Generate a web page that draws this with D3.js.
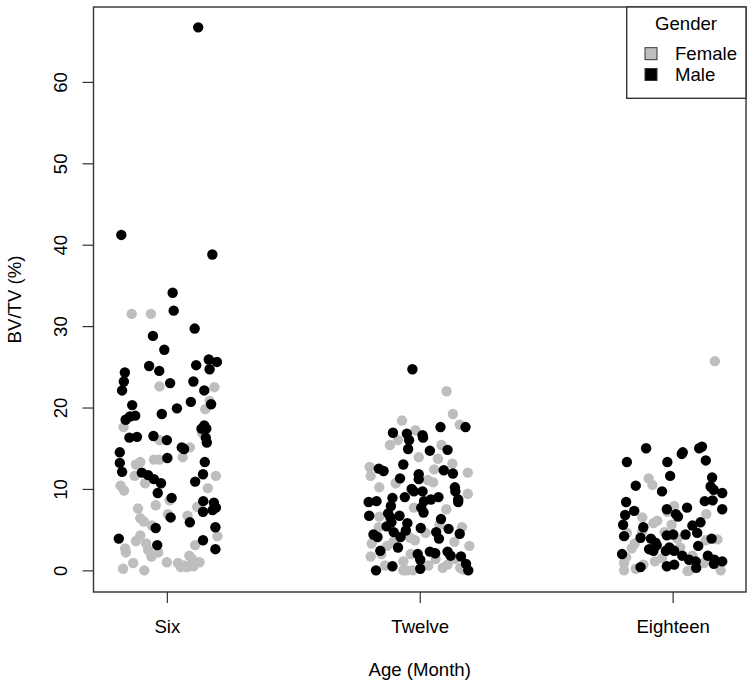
<!DOCTYPE html>
<html>
<head>
<meta charset="utf-8">
<style>
  body { margin: 0; background: #fff; }
  text { font-family: "Liberation Sans", Arial, Helvetica, sans-serif; fill: #000; }
</style>
</head>
<body>
<svg width="754" height="690"></svg>
<script src="https://d3js.org/d3.v7.min.js"></script>
<script>
// BV/TV (%) by age group, split by gender.
// each point is [jitter (in category units), value]
var ages = ["Six", "Twelve", "Eighteen"]
var genders = ["Female", "Male"]
var yTicks = [0, 10, 20, 30, 40, 50, 60]

var sixFemale = [
  [-0.139, 31.5], [-0.063, 31.5], [-0.029, 22.6], [0.188, 22.5], [0.152, 19.8], [0.169, 20.8],
  [-0.171, 17.6], [0.139, 16.9], [-0.029, 16.0], [0.091, 15.1], [0.063, 13.9], [-0.051, 13.6],
  [-0.030, 13.6], [-0.105, 13.3], [-0.122, 13.0], [-0.183, 10.4], [-0.169, 9.8], [-0.127, 11.6],
  [-0.086, 10.7], [0.162, 10.1], [0.194, 11.6], [0.011, 8.6], [-0.044, 8.0], [-0.114, 7.6],
  [0.120, 7.8], [0.082, 6.7], [-0.105, 6.4], [-0.091, 6.0], [0.004, 6.9], [-0.059, 5.5],
  [0.200, 4.2], [-0.105, 4.3], [-0.122, 3.6], [-0.082, 3.3], [-0.165, 2.7], [-0.162, 2.2],
  [-0.074, 2.5], [-0.061, 1.7], [-0.034, 2.2], [0.000, 1.0], [-0.133, 0.9], [-0.173, 0.2],
  [-0.089, 0.0], [0.044, 0.9], [0.055, 0.4], [0.080, 0.4], [0.105, 0.5], [0.089, 1.8],
  [0.129, 1.0], [0.112, 3.1], [0.100, 1.4], [0.068, 0.6], [0.063, 15.0]
]
var sixMale = [
  [0.124, 66.7], [-0.180, 41.2], [0.180, 38.8], [0.023, 34.1], [0.027, 31.9], [0.110, 29.7],
  [-0.055, 28.8], [-0.010, 27.1], [-0.166, 24.3], [-0.070, 25.1], [-0.030, 24.5], [0.116, 25.2],
  [0.166, 25.9], [0.198, 25.6], [0.169, 24.7], [-0.170, 23.2], [0.013, 23.0], [0.105, 23.2],
  [-0.177, 22.1], [0.148, 22.1], [-0.137, 20.3], [0.040, 19.9], [0.095, 20.7], [0.175, 20.4],
  [-0.125, 19.0], [-0.020, 19.2], [-0.163, 18.5], [-0.146, 18.9], [-0.148, 16.3], [-0.118, 16.4],
  [-0.053, 16.5], [0.000, 16.0], [0.059, 15.1], [0.068, 14.9], [0.148, 17.8], [0.156, 17.4],
  [0.137, 17.4], [0.158, 15.7], [0.154, 16.3], [-0.186, 14.5], [-0.186, 13.2], [0.002, 13.8],
  [-0.177, 12.1], [0.150, 13.3], [0.143, 11.8], [-0.099, 12.0], [-0.074, 11.7], [-0.051, 11.2],
  [-0.023, 10.7], [0.112, 10.9], [-0.036, 9.5], [0.019, 8.9], [0.144, 8.5], [0.186, 8.3],
  [0.194, 7.7], [0.181, 7.4], [0.143, 7.2], [0.015, 6.5], [-0.044, 5.2], [0.192, 5.3],
  [0.091, 5.9], [-0.190, 3.9], [0.143, 3.7], [-0.038, 3.1], [0.192, 2.6]
]
var twelveFemale = [
  [0.106, 22.0], [0.131, 19.2], [-0.070, 18.4], [0.158, 17.9], [-0.017, 17.2], [-0.086, 16.0],
  [-0.118, 15.4], [0.086, 15.4], [-0.004, 13.9], [0.072, 13.7], [-0.198, 12.7], [0.129, 13.1],
  [0.057, 12.4], [0.190, 12.0], [-0.194, 11.6], [0.032, 11.1], [-0.095, 10.7], [0.053, 10.8],
  [-0.160, 10.2], [0.190, 9.4], [-0.023, 7.7], [0.105, 7.5], [-0.160, 6.6], [0.167, 5.3],
  [-0.162, 5.3], [0.078, 5.6], [-0.038, 4.0], [-0.019, 3.7], [0.023, 4.6], [-0.190, 3.3],
  [-0.129, 3.0], [-0.105, 3.5], [0.137, 3.5], [0.196, 3.0], [-0.152, 2.0], [-0.194, 1.7],
  [-0.036, 2.0], [-0.065, 1.1], [0.063, 1.4], [0.139, 1.4], [-0.137, 0.6], [-0.065, 0.0],
  [-0.051, 0.0], [-0.027, 0.0], [0.034, 0.6], [0.091, 0.3], [0.160, 0.3], [0.173, 0.1],
  [0.110, 0.7]
]
var twelveMale = [
  [-0.029, 24.7], [0.082, 17.6], [0.181, 17.6], [-0.106, 16.9], [-0.051, 16.8], [0.011, 16.6],
  [-0.042, 16.0], [0.013, 16.3], [-0.046, 14.9], [0.040, 14.7], [0.110, 14.8], [-0.065, 13.0],
  [-0.162, 12.5], [-0.143, 12.2], [0.095, 12.3], [0.131, 11.9], [-0.078, 11.3], [-0.004, 11.8],
  [-0.004, 11.2], [0.139, 10.2], [0.141, 9.7], [-0.032, 10.0], [-0.023, 9.7], [0.011, 9.7],
  [-0.202, 8.4], [-0.171, 8.5], [-0.108, 8.9], [-0.059, 9.0], [0.017, 8.5], [0.044, 8.7],
  [0.074, 9.0], [0.152, 8.4], [0.152, 8.7], [-0.114, 7.9], [0.006, 7.7], [0.015, 7.1],
  [-0.200, 6.7], [-0.125, 7.0], [-0.116, 6.5], [-0.080, 6.7], [0.084, 6.3], [-0.112, 5.9],
  [-0.131, 5.4], [-0.103, 4.7], [-0.049, 5.8], [-0.055, 4.9], [-0.076, 4.1], [-0.183, 4.4],
  [-0.167, 4.1], [0.004, 5.2], [0.065, 4.7], [0.076, 3.9], [0.114, 5.1], [0.158, 4.5],
  [-0.086, 2.8], [-0.156, 2.4], [-0.008, 2.0], [0.002, 1.3], [0.040, 2.3], [0.110, 2.3],
  [0.122, 1.8], [0.163, 1.7], [0.183, 0.8], [0.192, 0.0], [-0.173, 0.0], [-0.108, 0.5],
  [0.002, 0.2], [0.061, 2.1]
]
var eighteenFemale = [
  [0.167, 25.7], [-0.095, 11.3], [-0.080, 10.5], [0.006, 7.9], [-0.021, 7.2], [0.133, 6.9],
  [-0.076, 5.8], [-0.061, 6.1], [-0.120, 6.5], [-0.120, 4.8], [-0.181, 4.6], [-0.004, 5.6],
  [-0.150, 3.3], [-0.162, 2.7], [0.177, 3.8], [-0.184, 1.6], [-0.192, 0.9], [-0.192, 0.0],
  [-0.146, 0.2], [-0.116, 0.7], [-0.070, 1.1], [-0.042, 1.5], [0.030, 2.8], [0.078, 1.8],
  [0.067, 0.0], [0.059, -0.1], [0.124, 0.9], [0.190, 0.0], [0.131, 3.7], [-0.032, 4.7],
  [0.019, 3.9]
]
var eighteenMale = [
  [-0.105, 15.0], [0.116, 15.2], [0.105, 15.0], [0.040, 14.5], [0.036, 14.3], [-0.181, 13.3],
  [-0.021, 13.3], [0.131, 13.5], [-0.010, 11.6], [0.156, 11.4], [-0.146, 10.4], [0.150, 10.3],
  [0.162, 9.9], [0.196, 9.5], [-0.042, 9.7], [-0.184, 8.4], [0.127, 8.5], [0.158, 8.6],
  [0.057, 7.7], [-0.023, 7.5], [0.196, 7.5], [-0.152, 7.3], [-0.188, 6.8], [0.013, 6.9],
  [0.021, 6.6], [-0.196, 5.6], [-0.116, 5.3], [0.110, 5.9], [0.078, 5.5], [0.097, 4.6],
  [0.051, 4.4], [-0.023, 4.3], [0.002, 4.4], [-0.192, 4.2], [-0.127, 4.0], [-0.086, 3.9],
  [0.154, 3.9], [-0.068, 3.4], [-0.063, 3.1], [0.101, 3.0], [-0.093, 2.6], [-0.013, 2.8],
  [-0.076, 2.4], [-0.027, 2.4], [0.006, 2.4], [-0.200, 2.0], [0.038, 1.8], [0.139, 1.8],
  [0.165, 1.3], [0.065, 1.3], [0.091, 1.1], [0.196, 1.1], [-0.127, 0.4], [-0.023, 0.5],
  [0.006, 0.7], [0.093, 0.3], [0.163, 0.8]
]

var female = [sixFemale, twelveFemale, eighteenFemale]
var male = [sixMale, twelveMale, eighteenMale]
var colors = { Female: "#bebebe", Male: "#000000" }
var fontSize = "18.6px"

var svg = d3.select("svg")
var box = { left: 93.5, right: 746, top: 7, bottom: 592 }

var x = d3.scaleLinear().domain([0.71, 3.29]).range([box.left, box.right])
var y = d3.scaleLinear().domain([-2.66, 69.2]).range([box.bottom, box.top])

// points: females first, then males on top
function flatten(groups, gender) {
  var out = []
  groups.forEach(function (g, i) {
    g.forEach(function (p) { out.push({ age: i + 1, jit: p[0], v: p[1], gender: gender }) })
  })
  return out
}
var points = flatten(female, "Female").concat(flatten(male, "Male"))

svg.append("g").selectAll("circle")
  .data(points)
  .enter().append("circle")
  .attr("cx", function (d) { return x(d.age + d.jit) })
  .attr("cy", function (d) { return y(d.v) })
  .attr("r", 5.2)
  .attr("fill", function (d) { return colors[d.gender] })

// box
svg.append("rect")
  .attr("x", box.left).attr("y", box.top)
  .attr("width", box.right - box.left).attr("height", box.bottom - box.top)
  .attr("fill", "none").attr("stroke", "#333").attr("stroke-width", 1.4)

// y axis
var yAxis = svg.append("g")
  .attr("transform", "translate(" + box.left + ",0)")
  .call(d3.axisLeft(y).tickValues(yTicks).tickSize(11).tickFormat(d3.format("d")))
yAxis.select(".domain").remove()
yAxis.selectAll(".tick line").attr("stroke", "#333").attr("stroke-width", 1.2)
yAxis.selectAll(".tick text")
  .attr("transform", "rotate(-90)")
  .attr("x", 0).attr("y", -26.5).attr("dy", 0)
  .attr("text-anchor", "middle")
  .style("font-size", fontSize)
  .style("font-family", "Liberation Sans, Arial, sans-serif")

// x axis
var xAxis = svg.append("g")
  .attr("transform", "translate(0," + box.bottom + ")")
  .call(d3.axisBottom(x).tickValues([1, 2, 3]).tickSize(11)
    .tickFormat(function (d) { return ages[d - 1] }))
xAxis.select(".domain").remove()
xAxis.selectAll(".tick line").attr("stroke", "#333").attr("stroke-width", 1.2)
xAxis.selectAll(".tick text")
  .attr("y", 41).attr("dy", 0)
  .style("font-size", fontSize)
  .style("font-family", "Liberation Sans, Arial, sans-serif")

// titles
svg.append("text")
  .attr("x", (box.left + box.right) / 2).attr("y", 676)
  .attr("text-anchor", "middle").style("font-size", fontSize)
  .text("Age (Month)")
svg.append("text")
  .attr("transform", "translate(21," + (box.top + box.bottom) / 2 + ") rotate(-90)")
  .attr("text-anchor", "middle").style("font-size", fontSize)
  .text("BV/TV (%)")

// legend
var legend = svg.append("g")
legend.append("rect")
  .attr("x", 626.7).attr("y", box.top)
  .attr("width", box.right - 626.7).attr("height", 91.3)
  .attr("fill", "#fff").attr("stroke", "#333").attr("stroke-width", 1.4)
legend.append("text")
  .attr("x", 686).attr("y", 30)
  .attr("text-anchor", "middle").style("font-size", fontSize)
  .text("Gender")
genders.forEach(function (g, i) {
  var cy = 53.7 + i * 20.8
  legend.append("rect")
    .attr("x", 645).attr("y", cy - 6)
    .attr("width", 12).attr("height", 12)
    .attr("fill", colors[g]).attr("stroke", "#333").attr("stroke-width", 1)
  legend.append("text")
    .attr("x", 675).attr("y", cy + 6.5)
    .style("font-size", fontSize)
    .text(g)
})
</script>
</body>
</html>
